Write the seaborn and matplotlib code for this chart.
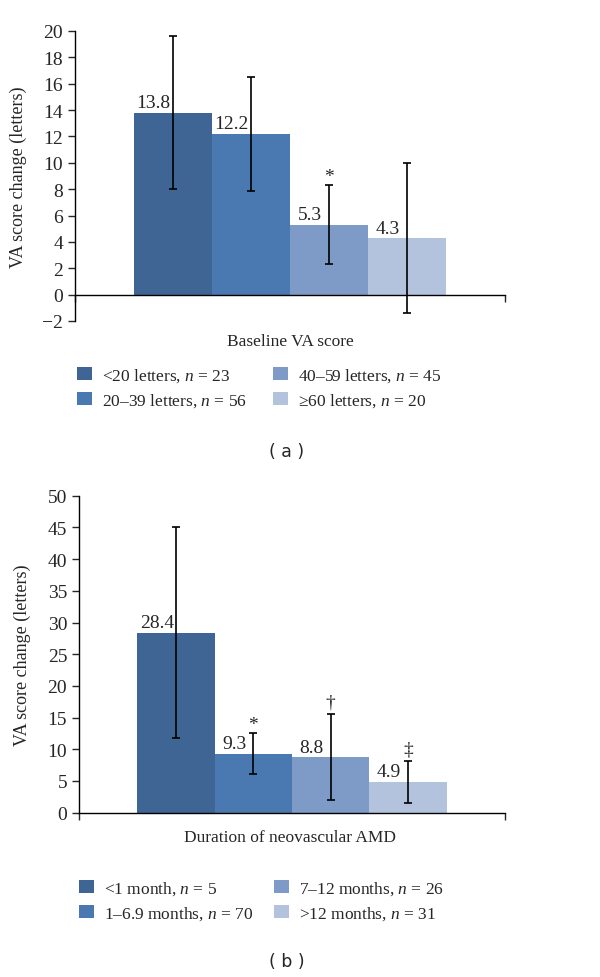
import matplotlib
matplotlib.use("Agg")
import matplotlib.pyplot as plt
import seaborn as sns

# panel (a): baseline VA score groups
groups_a = ["<20 letters, $n$ = 23", "20–39 letters, $n$ = 56",
            "40–59 letters, $n$ = 45", "≥60 letters, $n$ = 20"]
mean_a = [13.8, 12.2, 5.3, 4.3]
sd_a = [5.8, 4.3, 3.0, 5.7]
marks_a = ["", "", "*", ""]

# panel (b): duration of neovascular AMD
groups_b = ["<1 month, $n$ = 5", "1–6.9 months, $n$ = 70",
            "7–12 months, $n$ = 26", ">12 months, $n$ = 31"]
mean_b = [28.4, 9.3, 8.8, 4.9]
sd_b = [16.6, 3.2, 6.8, 3.3]
marks_b = ["", "*", "†", "‡"]

colors = ["#3f6595", "#4a78b0", "#7e9bc7", "#b3c3dd"]

sns.set_style("ticks")
plt.rcParams["font.family"] = ["Liberation Serif", "DejaVu Serif"]
plt.rcParams["mathtext.fontset"] = "custom"
plt.rcParams["mathtext.rm"] = "Liberation Serif"
plt.rcParams["mathtext.it"] = "Liberation Serif:italic"

W, H = 600, 978
fig = plt.figure(figsize=(6, 9.78), dpi=100)


def px(x, y):
    return x / W, 1 - y / H


def panel(rect, groups, means, sds, marks, ylim, yticks, xlabel, xlab_y,
          leg_x, leg_y, tag, tag_y, zero_spine):
    ax = fig.add_axes(rect)
    sns.barplot(x=groups, y=means, hue=groups, order=groups, hue_order=groups,
                palette=colors, width=1, saturation=1, errorbar=None,
                legend=False, ax=ax, linewidth=0)
    ax.errorbar(range(4), means, yerr=sds, fmt="none", ecolor="black",
                elinewidth=1.2, capsize=3, capthick=1.2)
    for i, (m, s, k) in enumerate(zip(means, sds, marks)):
        ax.annotate(f"{m:.1f}", (i - 0.25, m), xytext=(0, 1),
                    textcoords="offset points", ha="center", va="bottom",
                    fontsize=14)
        if k:
            lift = 0 if k == "*" else 2.5
            ax.annotate(k, (i, m + s), xytext=(0, lift),
                        textcoords="offset points", ha="center",
                        va="bottom", fontsize=14)
    ax.set_xlim(-1.256, 4.256)
    ax.set_ylim(*ylim)
    ax.set_yticks(yticks)
    ax.set_xticks([-1.256, 4.256])
    ax.set_xticklabels([])
    ax.tick_params(axis="y", labelsize=14, length=5, width=1)
    ax.tick_params(axis="x", length=5, width=1)
    ax.set_xlabel("")
    ax.set_ylabel("VA score change (letters)", fontsize=13)
    ax.yaxis.set_label_coords(-0.112, 0.5)
    for sp in ["top", "right"]:
        ax.spines[sp].set_visible(False)
    for sp in ["left", "bottom"]:
        ax.spines[sp].set_linewidth(1)
        ax.spines[sp].set_color("black")
    if zero_spine:
        ax.spines["bottom"].set_position(("data", 0))
    fig.text(*px(290, xlab_y), xlabel, ha="center", va="center", fontsize=12.5)

    handles = list(ax.patches)[:4]
    for col in range(2):
        lg = ax.legend(handles[2 * col:2 * col + 2],
                       groups[2 * col:2 * col + 2],
                       loc="center left", bbox_to_anchor=px(leg_x[col], leg_y),
                       bbox_transform=fig.transFigure, frameon=False,
                       fontsize=12.5, handlelength=0.85, handleheight=0.8,
                       handletextpad=0.6, labelspacing=0.4, borderpad=0,
                       borderaxespad=0)
        if col == 0:
            ax.add_artist(lg)
    fig.text(*px(287, tag_y), tag, ha="center", va="center", fontsize=12.5,
             family="DejaVu Sans")
    return ax


panel([75 / W, 1 - 322 / H, 430 / W, 290 / H], groups_a, mean_a, sd_a, marks_a,
      (-2, 20), range(-2, 21, 2), "Baseline VA score", 342,
      (77, 273), 388.5, "( a )", 452, True)

panel([79 / W, 1 - 813.7 / H, 426 / W, 317 / H], groups_b, mean_b, sd_b, marks_b,
      (0, 50), range(0, 51, 5), "Duration of neovascular AMD", 838,
      (79, 274), 901.5, "( b )", 962, False)

fig.savefig("out.png", dpi=100)
